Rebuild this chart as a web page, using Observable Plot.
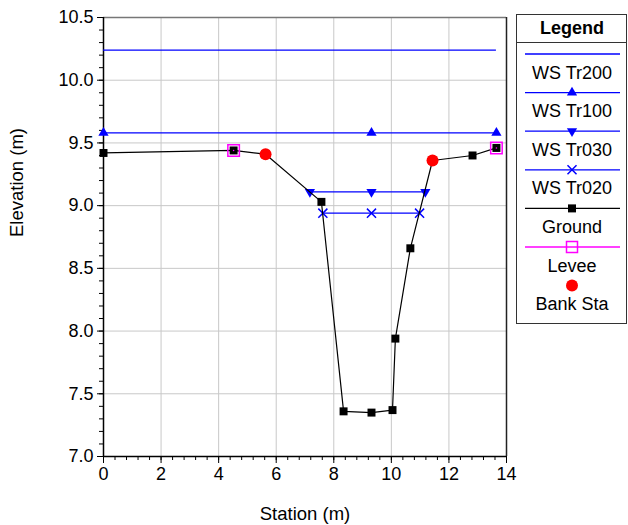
<!DOCTYPE html>
<html>
<head>
<meta charset="utf-8">
<script src="https://cdn.jsdelivr.net/npm/d3@7"></script>
<script src="https://cdn.jsdelivr.net/npm/@observablehq/plot@0.6"></script>
<style>
  html, body { margin: 0; padding: 0; background: #fff; }
  #wrap { position: relative; width: 628px; height: 525px; font-family: "Liberation Sans", Arial, sans-serif; }
  #legend { position: absolute; left: 0; top: 0; }
</style>
</head>
<body>
<div id="wrap"></div>
<script>
// ---- Data ----
const groundStation = [0, 4.52, 5.63, 7.57, 8.34, 9.31, 10.04, 10.14, 10.66, 11.43, 12.82, 13.65];
const groundElev    = [9.42, 9.44, 9.41, 9.03, 7.36, 7.35, 7.37, 7.94, 8.66, 9.36, 9.40, 9.46];
const leveeStation  = [4.52, 13.65];
const leveeElev     = [9.44, 9.46];
const bankStation   = [5.63, 11.43];
const bankElev      = [9.41, 9.36];
const wsNames       = ["WS Tr200", "WS Tr100", "WS Tr030", "WS Tr020"];
const wsElev        = [10.24, 9.58, 9.11, 8.94];
const wsStart       = [0, 0, 7.17, 7.62];
const wsEnd         = [13.65, 13.65, 11.18, 10.98];
const wsMid         = [9.31, 9.31, 9.31, 9.31];
const xTicks = [0, 2, 4, 6, 8, 10, 12, 14];
const yTicks = [7.0, 7.5, 8.0, 8.5, 9.0, 9.5, 10.0, 10.5];

const ground = groundStation.map((x, i) => ({x, y: groundElev[i]}));
const levee = leveeStation.map((x, i) => ({x, y: leveeElev[i]}));
const bank = bankStation.map((x, i) => ({x, y: bankElev[i]}));
const ws = wsNames.map((name, i) => ({name, y: wsElev[i], x1: wsStart[i], x2: wsEnd[i], xm: wsMid[i]}));
const tr100pts = [ws[1].x1, ws[1].xm, ws[1].x2].map(x => ({x, y: ws[1].y}));
const tr030pts = [ws[2].x1, ws[2].xm, ws[2].x2].map(x => ({x, y: ws[2].y}));
const tr020pts = [ws[3].x1, ws[3].xm, ws[3].x2].map(x => ({x, y: ws[3].y}));

const xMinor = d3.range(0, 14.0001, 0.4).map(v => +v.toFixed(2));
const yMinor = d3.range(7, 10.5001, 0.1).map(v => +v.toFixed(2));
const BLUE = "#0000ff";
const FS = 18;

const plot = Plot.plot({
  width: 628,
  height: 525,
  marginLeft: 103,
  marginRight: 122,
  marginTop: 17,
  marginBottom: 69,
  style: {fontFamily: "Liberation Sans, Arial, sans-serif", fontSize: FS + "px", color: "#000", background: "#fff"},
  x: {domain: [0, 14]},
  y: {domain: [7, 10.5]},
  marks: [
    Plot.gridX(xTicks.slice(1, -1), {stroke: "#c8c8c8", strokeOpacity: 1}),
    Plot.gridY(yTicks.slice(1, -1), {stroke: "#c8c8c8", strokeOpacity: 1}),
    Plot.axisX(xMinor, {tickSize: 4, tickFormat: () => "", label: null, stroke: "#000"}),
    Plot.axisY(yMinor, {tickSize: 4, tickFormat: () => "", label: null, stroke: "#000"}),
    Plot.axisX(xTicks, {tickSize: 7, tickPadding: 4, tickFormat: d => d3.format("d")(d), label: null, fontSize: FS}),
    Plot.axisY(yTicks, {tickSize: 6, tickPadding: 4, tickFormat: d => d.toFixed(1), label: null, fontSize: FS}),
    Plot.text(["Station (m)"], {frameAnchor: "bottom", dy: 63, fontSize: 18.5, fill: "#000"}),
    Plot.text(["Elevation (m)"], {frameAnchor: "left", dx: -86, rotate: -90, fontSize: 18.5, fill: "#000"}),
    Plot.ruleY([10.5], {stroke: "#777", strokeWidth: 1.5}),
    Plot.ruleX([14], {stroke: "#222", strokeWidth: 1.5}),
    Plot.ruleY([7], {stroke: "#000", strokeWidth: 1.5}),
    Plot.ruleX([0], {stroke: "#000", strokeWidth: 1.5}),
    // water surfaces
    Plot.ruleY(ws, {y: "y", x1: "x1", x2: "x2", stroke: BLUE, strokeWidth: 1.3}),
    Plot.dot(tr100pts, {x: "x", y: "y", symbol: "triangle", r: 3.8, fill: BLUE, stroke: "none"}),
    Plot.dot(tr030pts, {x: "x", y: "y", symbol: "triangle", r: 3.8, fill: BLUE, stroke: "none", rotate: 180}),
    Plot.dot(tr020pts, {x: "x", y: "y", symbol: "times", r: 4.2, stroke: BLUE, strokeWidth: 1.5}),
    // ground
    Plot.line(ground, {x: "x", y: "y", stroke: "#000", strokeWidth: 1.2}),
    Plot.dot(ground, {x: "x", y: "y", symbol: "square", r: 4.5, fill: "#000", stroke: "none"}),
    // levee
    Plot.dot(levee, {x: "x", y: "y", symbol: "square", r: 6.5, fill: "none", stroke: "#ff00ff", strokeWidth: 1.5}),
    Plot.dot(levee, {x: "x", y: "y", r: 0.8, fill: "#ff00ff", stroke: "none"}),
    // bank stations
    Plot.dot(bank, {x: "x", y: "y", r: 6, fill: "#ff0000", stroke: "none"})
  ]
});

const wrap = document.getElementById("wrap");
wrap.appendChild(plot);

// ---- Legend (drawn as SVG overlay on the right) ----
const legendItems = [
  {label: "WS Tr200", color: BLUE, sym: null},
  {label: "WS Tr100", color: BLUE, sym: "triangle"},
  {label: "WS Tr030", color: BLUE, sym: "triangleDown"},
  {label: "WS Tr020", color: BLUE, sym: "times"},
  {label: "Ground", color: "#000", sym: "square"},
  {label: "Levee", color: "#ff00ff", sym: "openSquare"},
  {label: "Bank Sta", color: null, sym: "circle"}
];
const svg = d3.select(wrap).append("svg")
  .attr("id", "legend")
  .attr("width", 628).attr("height", 525)
  .style("pointer-events", "none")
  .style("font-family", "Liberation Sans, Arial, sans-serif");
const lx0 = 516, lx1 = 627, ly0 = 14, ly1 = 323;
svg.append("rect").attr("x", lx0 + 0.5).attr("y", ly0 + 0.5).attr("width", lx1 - lx0 - 1).attr("height", ly1 - ly0)
  .attr("fill", "#fff").attr("stroke", "#333").attr("stroke-width", 1);
svg.append("text").attr("x", 572).attr("y", 34).attr("text-anchor", "middle")
  .attr("font-size", FS).attr("font-weight", "bold").text("Legend");
svg.append("line").attr("x1", lx0).attr("x2", lx1).attr("y1", 42.5).attr("y2", 42.5).attr("stroke", "#333");
const cx = 572;
legendItems.forEach((d, i) => {
  const yl = 54 + i * 38.6;
  const yt = yl + 24.5;
  if (d.color) {
    svg.append("line").attr("x1", 525).attr("x2", 620).attr("y1", yl).attr("y2", yl)
      .attr("stroke", d.color).attr("stroke-width", 1.3);
  }
  const g = svg.append("g").attr("transform", `translate(${cx},${yl})`);
  if (d.sym === "triangle") g.append("path").attr("d", d3.symbol(d3.symbolTriangle, 45)()).attr("fill", BLUE);
  if (d.sym === "triangleDown") g.append("path").attr("d", d3.symbol(d3.symbolTriangle, 45)()).attr("fill", BLUE).attr("transform", "rotate(180)");
  if (d.sym === "times") g.append("path").attr("d", d3.symbol(d3.symbolTimes, 55)()).attr("fill", "none").attr("stroke", BLUE).attr("stroke-width", 1.5);
  if (d.sym === "square") g.append("rect").attr("x", -4).attr("y", -4).attr("width", 8).attr("height", 8).attr("fill", "#000");
  if (d.sym === "openSquare") g.append("rect").attr("x", -5.5).attr("y", -5.5).attr("width", 11).attr("height", 11).attr("fill", "none").attr("stroke", "#ff00ff").attr("stroke-width", 1.5);
  if (d.sym === "circle") g.append("circle").attr("r", 6).attr("fill", "#ff0000");
  svg.append("text").attr("x", cx).attr("y", yt).attr("text-anchor", "middle")
    .attr("font-size", FS).text(d.label);
});
</script>
</body>
</html>
